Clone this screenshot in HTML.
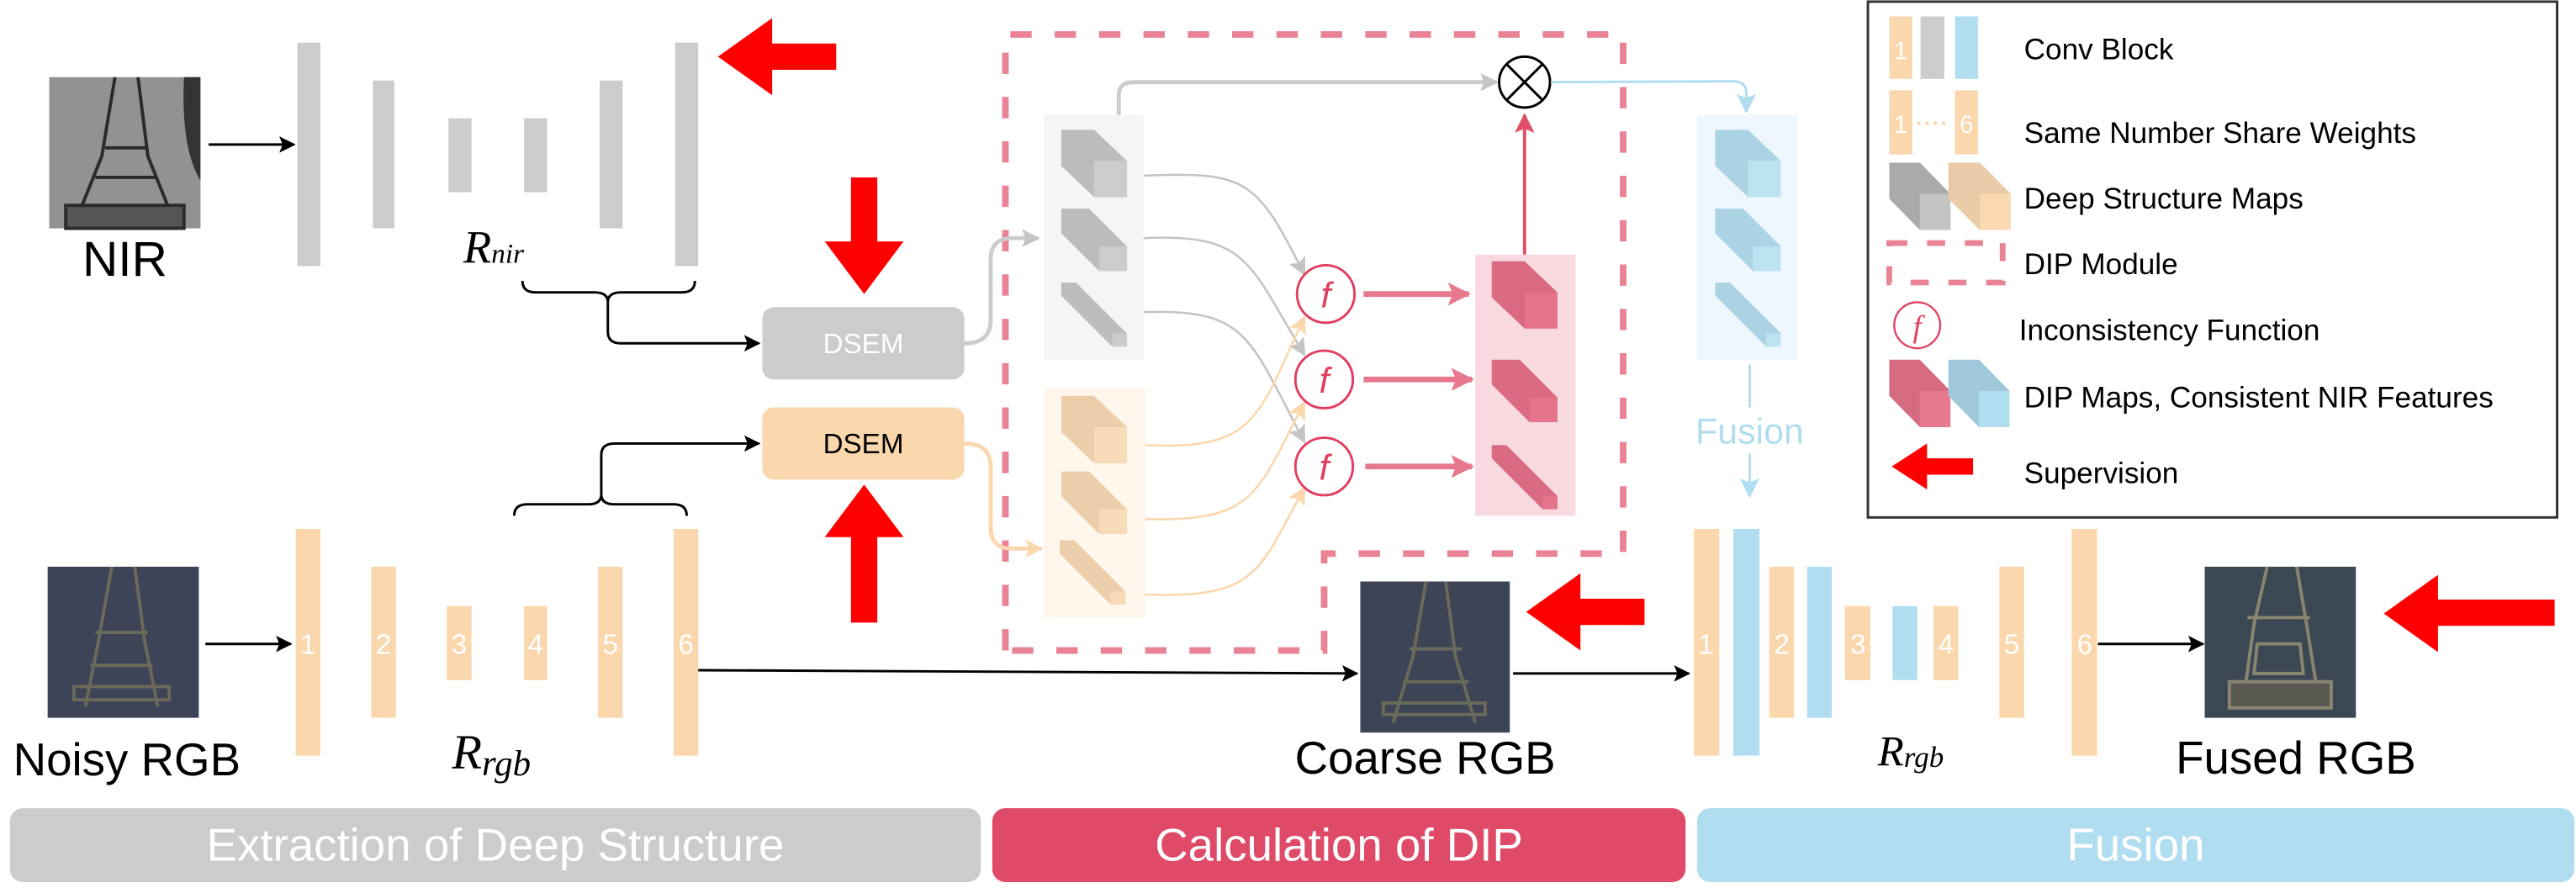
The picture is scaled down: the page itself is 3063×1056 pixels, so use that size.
<!DOCTYPE html>
<html><head><meta charset="utf-8"><style>
html,body{margin:0;padding:0;background:#fff;}
svg{display:block;}
text{font-family:"Liberation Sans",sans-serif;}
.ser{font-family:"Liberation Serif",serif;font-style:italic;}
</style></head><body>
<svg width="3063" height="1056" viewBox="0 0 1568 540.6" preserveAspectRatio="none" xmlns="http://www.w3.org/2000/svg">
<defs>
<marker id="mk" viewBox="0 0 10 10" refX="9" refY="5" markerWidth="10" markerHeight="10" markerUnits="userSpaceOnUse" orient="auto"><path d="M0,0 L10,5 L0,10 L2,5z" fill="#000"/></marker>
<marker id="mg" viewBox="0 0 10 10" refX="9" refY="5" markerWidth="11" markerHeight="11" markerUnits="userSpaceOnUse" orient="auto"><path d="M0,0 L10,5 L0,10 L2,5z" fill="#c4c4c4"/></marker>
<marker id="mo" viewBox="0 0 10 10" refX="9" refY="5" markerWidth="11" markerHeight="11" markerUnits="userSpaceOnUse" orient="auto"><path d="M0,0 L10,5 L0,10 L2,5z" fill="#fad7ac"/></marker>
<marker id="mb" viewBox="0 0 10 10" refX="9" refY="5" markerWidth="12" markerHeight="12" markerUnits="userSpaceOnUse" orient="auto"><path d="M0,0 L10,5 L0,10 L2,5z" fill="#b1ddf0"/></marker>
<marker id="mp" viewBox="0 0 10 10" refX="9" refY="5" markerWidth="14" markerHeight="14" markerUnits="userSpaceOnUse" orient="auto"><path d="M0,0 L10,5 L0,10 L2,5z" fill="#e8788e"/></marker>
<marker id="mr" viewBox="0 0 10 10" refX="9" refY="5" markerWidth="12" markerHeight="12" markerUnits="userSpaceOnUse" orient="auto"><path d="M0,0 L10,5 L0,10 L2,5z" fill="#e0506a"/></marker>
<g id="cA"><polygon points="0,0 20,0 40,19 40,41 20,41 0,22" style="fill:var(--s)"/><rect x="20" y="19" width="20" height="22" style="fill:var(--f)"/></g>
<g id="cB"><polygon points="0,0 17,0 40,23 40,38 23,38 0,15" style="fill:var(--s)"/><rect x="23" y="23" width="17" height="15" style="fill:var(--f)"/></g>
<g id="cC"><polygon points="0,0 9,0 40,31 40,39 31,39 0,8" style="fill:var(--s)"/><rect x="31" y="31" width="9" height="8" style="fill:var(--f)"/></g>
<g id="red"><polygon points="0,23.5 33,0 33,15.5 72,15.5 72,31.5 33,31.5 33,47" fill="#ff0000"/></g>
</defs>

<!-- NIR image -->
<rect x="30" y="47" width="92" height="92" fill="#8a8a8a"/>
<rect x="30" y="47" width="92" height="92" fill="#9a9a9a" opacity="0.5"/>
<g stroke="#2a2a2a" stroke-width="2" fill="none">
<path d="M70,47 L62,95 L50,125 M84,47 L90,95 L102,125 M64,90 L90,90 M58,108 L95,108"/>
<rect x="40" y="125" width="72" height="14" fill="#555"/>
</g>
<path d="M112,47 L122,47 L122,110 Q110,90 112,47z" fill="#333"/>
<text x="76" y="168" font-size="30" text-anchor="middle">NIR</text>
<line x1="127" y1="88" x2="179" y2="88" stroke="#000" stroke-width="1.5" marker-end="url(#mk)"/>

<!-- NIR encoder bars -->
<g fill="#cccccc">
<rect x="181" y="26" width="14" height="136"/>
<rect x="227" y="49" width="13" height="90"/>
<rect x="273" y="72" width="14" height="45"/>
<rect x="319" y="72" width="14" height="45"/>
<rect x="365" y="49" width="14" height="90"/>
<rect x="411" y="26" width="14" height="136"/>
</g>
<text x="282" y="160" font-size="28" class="ser">R<tspan font-size="17">nir</tspan></text>
<use href="#red" x="437" y="11"/>

<!-- braces -->
<path d="M318,171 Q318,178 326,178 L362,178 Q370,178 370,184 Q370,178 378,178 L415,178 Q423,178 423,171" fill="none" stroke="#000" stroke-width="1.5"/>
<path d="M370,184 L370,202 Q370,209 378,209 L462,209" fill="none" stroke="#000" stroke-width="1.5" marker-end="url(#mk)"/>
<path d="M313,314 Q313,307 321,307 L358,307 Q366,307 366,301 Q366,307 374,307 L410,307 Q418,307 418,314" fill="none" stroke="#000" stroke-width="1.5"/>
<path d="M366,301 L366,277 Q366,270 374,270 L462,270" fill="none" stroke="#000" stroke-width="1.5" marker-end="url(#mk)"/>

<!-- DSEM -->
<rect x="464" y="187" width="123" height="44" rx="7" fill="#cccccc"/>
<text x="525.5" y="215" font-size="17" fill="#fff" text-anchor="middle">DSEM</text>
<rect x="464" y="248" width="123" height="44" rx="7" fill="#fad7ac"/>
<text x="525.5" y="276" font-size="17" fill="#000" text-anchor="middle">DSEM</text>
<polygon points="518,108 534,108 534,147 550,147 526,179 502,147 518,147" fill="#ff0000"/>
<polygon points="526,295 550,327 534,327 534,379 518,379 518,327 502,327" fill="#ff0000"/>

<!-- Noisy RGB -->
<rect x="29" y="345" width="92" height="92" fill="#3e4458"/>
<g stroke="#6a6a5a" stroke-width="2" fill="none">
<path d="M68,345 L60,390 L52,430 M82,345 L88,390 L96,430 M58,385 L90,385 M55,405 L93,405"/>
<rect x="45" y="418" width="58" height="8"/>
</g>
<text x="8" y="472" font-size="28">Noisy RGB</text>
<line x1="125" y1="392" x2="177" y2="392" stroke="#000" stroke-width="1.5" marker-end="url(#mk)"/>
<g fill="#fad7ac">
<rect x="180" y="322" width="15" height="138"/>
<rect x="226" y="345" width="15" height="92"/>
<rect x="272" y="369" width="15" height="45"/>
<rect x="319" y="369" width="14" height="45"/>
<rect x="364" y="345" width="15" height="92"/>
<rect x="410" y="322" width="15" height="138"/>
</g>
<g fill="#fff" font-size="17" text-anchor="middle">
<text x="187.5" y="398">1</text><text x="233.5" y="398">2</text><text x="279.5" y="398">3</text><text x="326" y="398">4</text><text x="371.5" y="398">5</text><text x="417.5" y="398">6</text>
</g>
<text x="275" y="468" font-size="30" class="ser">R<tspan font-size="22" dy="4">rgb</tspan></text>
<path d="M425,408 L826,410" stroke="#000" stroke-width="1.5" fill="none" marker-end="url(#mk)"/>

<!-- DIP dashed box -->
<path d="M612,396 L612,21 L988,21 L988,337 L806,337 L806,396 Z" fill="none" stroke="#e98295" stroke-width="4" stroke-dasharray="13,14"/>

<!-- panels -->
<rect x="635" y="70" width="61" height="149" fill="#f5f5f5"/>
<rect x="636" y="236" width="61" height="140" fill="#fff6ec"/>
<g style="--s:#bcbcbc;--f:#cccccc">
<use href="#cA" x="646" y="79"/><use href="#cB" x="646" y="127"/><use href="#cC" x="646" y="172"/>
</g>
<g style="--s:#ecceaa;--f:#f8dcb9">
<use href="#cA" x="646" y="241"/><use href="#cB" x="646" y="287"/><use href="#cC" x="645" y="329"/>
</g>

<!-- DSEM -> panels -->
<path d="M587,209 Q603,209 603,195 L603,158 Q603,145 616,145 L632,145" fill="none" stroke="#cccccc" stroke-width="2.5" marker-end="url(#mg)"/>
<path d="M587,270 Q603,270 603,284 L603,321 Q603,334 616,334 L634,334" fill="none" stroke="#fad7ac" stroke-width="2.5" marker-end="url(#mo)"/>
<path d="M681,70 L681,58 Q681,50 690,50 L911,50" fill="none" stroke="#cccccc" stroke-width="2.5" marker-end="url(#mg)"/>

<!-- gray / orange curves -->
<g fill="none" stroke="#c4c4c4" stroke-width="1.3">
<path d="M696,107 C760,104 765,110 794,167" marker-end="url(#mg)"/>
<path d="M696,145 C760,142 760,160 794,216" marker-end="url(#mg)"/>
<path d="M696,190 C760,188 760,205 794,269" marker-end="url(#mg)"/>
</g>
<g fill="none" stroke="#fad7ac" stroke-width="1.3">
<path d="M697,271 C765,274 765,255 794,193" marker-end="url(#mo)"/>
<path d="M697,316 C765,318 765,300 794,245" marker-end="url(#mo)"/>
<path d="M697,362 C765,364 765,350 794,297" marker-end="url(#mo)"/>
</g>

<!-- f circles -->
<g fill="#fff" stroke="#e04060" stroke-width="1.5">
<circle cx="807" cy="179" r="17.5"/><circle cx="806" cy="231" r="17.5"/><circle cx="806" cy="284" r="17.5"/>
</g>
<g fill="#e04060" font-size="22" text-anchor="middle" class="ser">
<text x="807" y="187">f</text><text x="806" y="239">f</text><text x="806" y="292">f</text>
</g>
<g stroke="#e8788e" stroke-width="3.5">
<line x1="830" y1="179" x2="894" y2="179" marker-end="url(#mp)"/>
<line x1="830" y1="231" x2="896" y2="231" marker-end="url(#mp)"/>
<line x1="831" y1="284" x2="896" y2="284" marker-end="url(#mp)"/>
</g>
<rect x="898" y="155" width="61" height="159" fill="#f7d9df"/>
<g style="--s:#d96a81;--f:#e5738a">
<use href="#cA" x="908" y="159"/><use href="#cB" x="908" y="219"/><use href="#cC" x="908" y="271"/>
</g>
<line x1="928" y1="155" x2="928" y2="70" stroke="#e0506a" stroke-width="2" marker-end="url(#mr)"/>
<circle cx="928" cy="50" r="15.5" fill="#fff" stroke="#000" stroke-width="1.5"/>
<path d="M917,39 L939,61 M939,39 L917,61" stroke="#000" stroke-width="1.5"/>
<path d="M944,50 L1055,49.5 Q1063,49.5 1063,57 L1063,68" fill="none" stroke="#b1ddf0" stroke-width="1.5" marker-end="url(#mb)"/>

<!-- blue panel -->
<rect x="1033" y="70" width="61" height="149" fill="#eef7fd"/>
<g style="--s:#acd3e4;--f:#bde3f3">
<use href="#cA" x="1044" y="79"/><use href="#cB" x="1044" y="127"/><use href="#cC" x="1044" y="172"/>
</g>
<line x1="1065" y1="222" x2="1065" y2="248" stroke="#b1ddf0" stroke-width="1.5"/>
<text x="1065" y="270" font-size="22" fill="#b1ddf0" text-anchor="middle">Fusion</text>
<line x1="1065" y1="276" x2="1065" y2="302" stroke="#b1ddf0" stroke-width="1.5" marker-end="url(#mb)"/>

<!-- Coarse RGB -->
<rect x="828" y="354" width="91" height="92" fill="#3d4456"/>
<g stroke="#6a6a5a" stroke-width="2" fill="none">
<path d="M868,354 L860,400 L848,440 M880,354 L886,400 L898,440 M858,395 L890,395 M854,415 L894,415"/>
<rect x="842" y="428" width="62" height="7"/>
</g>
<text x="867.5" y="471" font-size="28" text-anchor="middle">Coarse RGB</text>
<use href="#red" x="929" y="349"/>
<line x1="921" y1="410" x2="1028" y2="410" stroke="#000" stroke-width="1.5" marker-end="url(#mk)"/>

<!-- decoder -->
<g fill="#fad7ac">
<rect x="1031" y="322" width="15.5" height="138"/>
<rect x="1077" y="345" width="15" height="92"/>
<rect x="1123" y="369" width="15.5" height="45"/>
<rect x="1177" y="369" width="15" height="45"/>
<rect x="1217" y="345" width="15" height="92"/>
<rect x="1261" y="322" width="15.5" height="138"/>
</g>
<g fill="#b1ddf0">
<rect x="1055" y="322" width="16" height="138"/>
<rect x="1100" y="345" width="15" height="92"/>
<rect x="1152" y="369" width="15" height="45"/>
</g>
<g fill="#fff" font-size="17" text-anchor="middle">
<text x="1038.5" y="398">1</text><text x="1084.5" y="398">2</text><text x="1131" y="398">3</text><text x="1184.5" y="398">4</text><text x="1224.5" y="398">5</text><text x="1269" y="398">6</text>
</g>
<text x="1143" y="466" font-size="26" class="ser">R<tspan font-size="18" dy="1">rgb</tspan></text>
<line x1="1277" y1="392" x2="1341" y2="392" stroke="#000" stroke-width="1.5" marker-end="url(#mk)"/>
<rect x="1342" y="345" width="92" height="92" fill="#3b4753"/>
<g stroke="#8a8570" stroke-width="2" fill="none">
<path d="M1380,345 L1372,380 L1365,430 M1398,345 L1404,380 L1412,430 M1368,376 L1406,376 M1374,392 L1400,392 L1402,410 L1372,410 Z"/>
<rect x="1357" y="415" width="62" height="16" fill="#5a5a52"/>
</g>
<text x="1397.5" y="471" font-size="28" text-anchor="middle">Fused RGB</text>
<polygon points="1451,373.5 1484,350 1484,365 1555,365 1555,381 1484,381 1484,397" fill="#ff0000"/>

<!-- legend -->
<rect x="1137" y="1" width="419.5" height="314" fill="#fff" stroke="#333" stroke-width="1.5"/>
<rect x="1150" y="10" width="14" height="38" fill="#fad7ac"/>
<rect x="1169" y="10" width="14.5" height="38" fill="#cccccc"/>
<rect x="1190" y="10" width="14" height="38" fill="#b1ddf0"/>
<text x="1157" y="36" font-size="15" fill="#fff" text-anchor="middle">1</text>
<rect x="1150" y="55" width="14" height="39" fill="#fad7ac"/>
<rect x="1190" y="55" width="14" height="39" fill="#fad7ac"/>
<text x="1157" y="81" font-size="15" fill="#fff" text-anchor="middle">1</text>
<text x="1197" y="81" font-size="15" fill="#fff" text-anchor="middle">6</text>
<line x1="1167" y1="75" x2="1187" y2="75" stroke="#fad7ac" stroke-width="2" stroke-dasharray="2,3"/>
<g transform="translate(1150,99) scale(0.93,1)" style="--s:#aaaaaa;--f:#c4c4c4"><use href="#cA"/></g>
<g transform="translate(1186,99) scale(0.95,1)" style="--s:#ebcba7;--f:#fad9b2"><use href="#cA"/></g>
<rect x="1150" y="148" width="69" height="24" fill="none" stroke="#e98295" stroke-width="3.5" stroke-dasharray="11,12"/>
<circle cx="1167" cy="198" r="14" fill="#fff" stroke="#e04060" stroke-width="1.2"/>
<text x="1167" y="205" font-size="19" fill="#e04060" text-anchor="middle" class="ser">f</text>
<g transform="translate(1150,219) scale(0.93,1)" style="--s:#d56a80;--f:#e57990"><use href="#cA"/></g>
<g transform="translate(1186,219) scale(0.93,1)" style="--s:#9fc8da;--f:#b1ddf0"><use href="#cA"/></g>
<polygon points="1151.5,284 1173,270 1173,279 1201,279 1201,289 1173,289 1173,298" fill="#ff0000"/>
<g font-size="18" fill="#000">
<text x="1232" y="36">Conv Block</text>
<text x="1232" y="87">Same Number Share Weights</text>
<text x="1232" y="127">Deep Structure Maps</text>
<text x="1232" y="167">DIP Module</text>
<text x="1229" y="207">Inconsistency Function</text>
<text x="1232" y="248">DIP Maps, Consistent NIR Features</text>
<text x="1232" y="294">Supervision</text>
</g>

<!-- bottom bars -->
<rect x="6" y="492" width="591" height="45" rx="8" fill="#cccccc"/>
<text x="301.5" y="524" font-size="28" fill="#fff" text-anchor="middle">Extraction of Deep Structure</text>
<rect x="604" y="492" width="422" height="45" rx="8" fill="#df4a68"/>
<text x="815" y="524" font-size="28" fill="#fff" text-anchor="middle">Calculation of DIP</text>
<rect x="1033" y="492" width="534" height="45" rx="8" fill="#b1ddf0"/>
<text x="1300" y="524" font-size="28" fill="#fff" text-anchor="middle">Fusion</text>
</svg>
</body></html>
